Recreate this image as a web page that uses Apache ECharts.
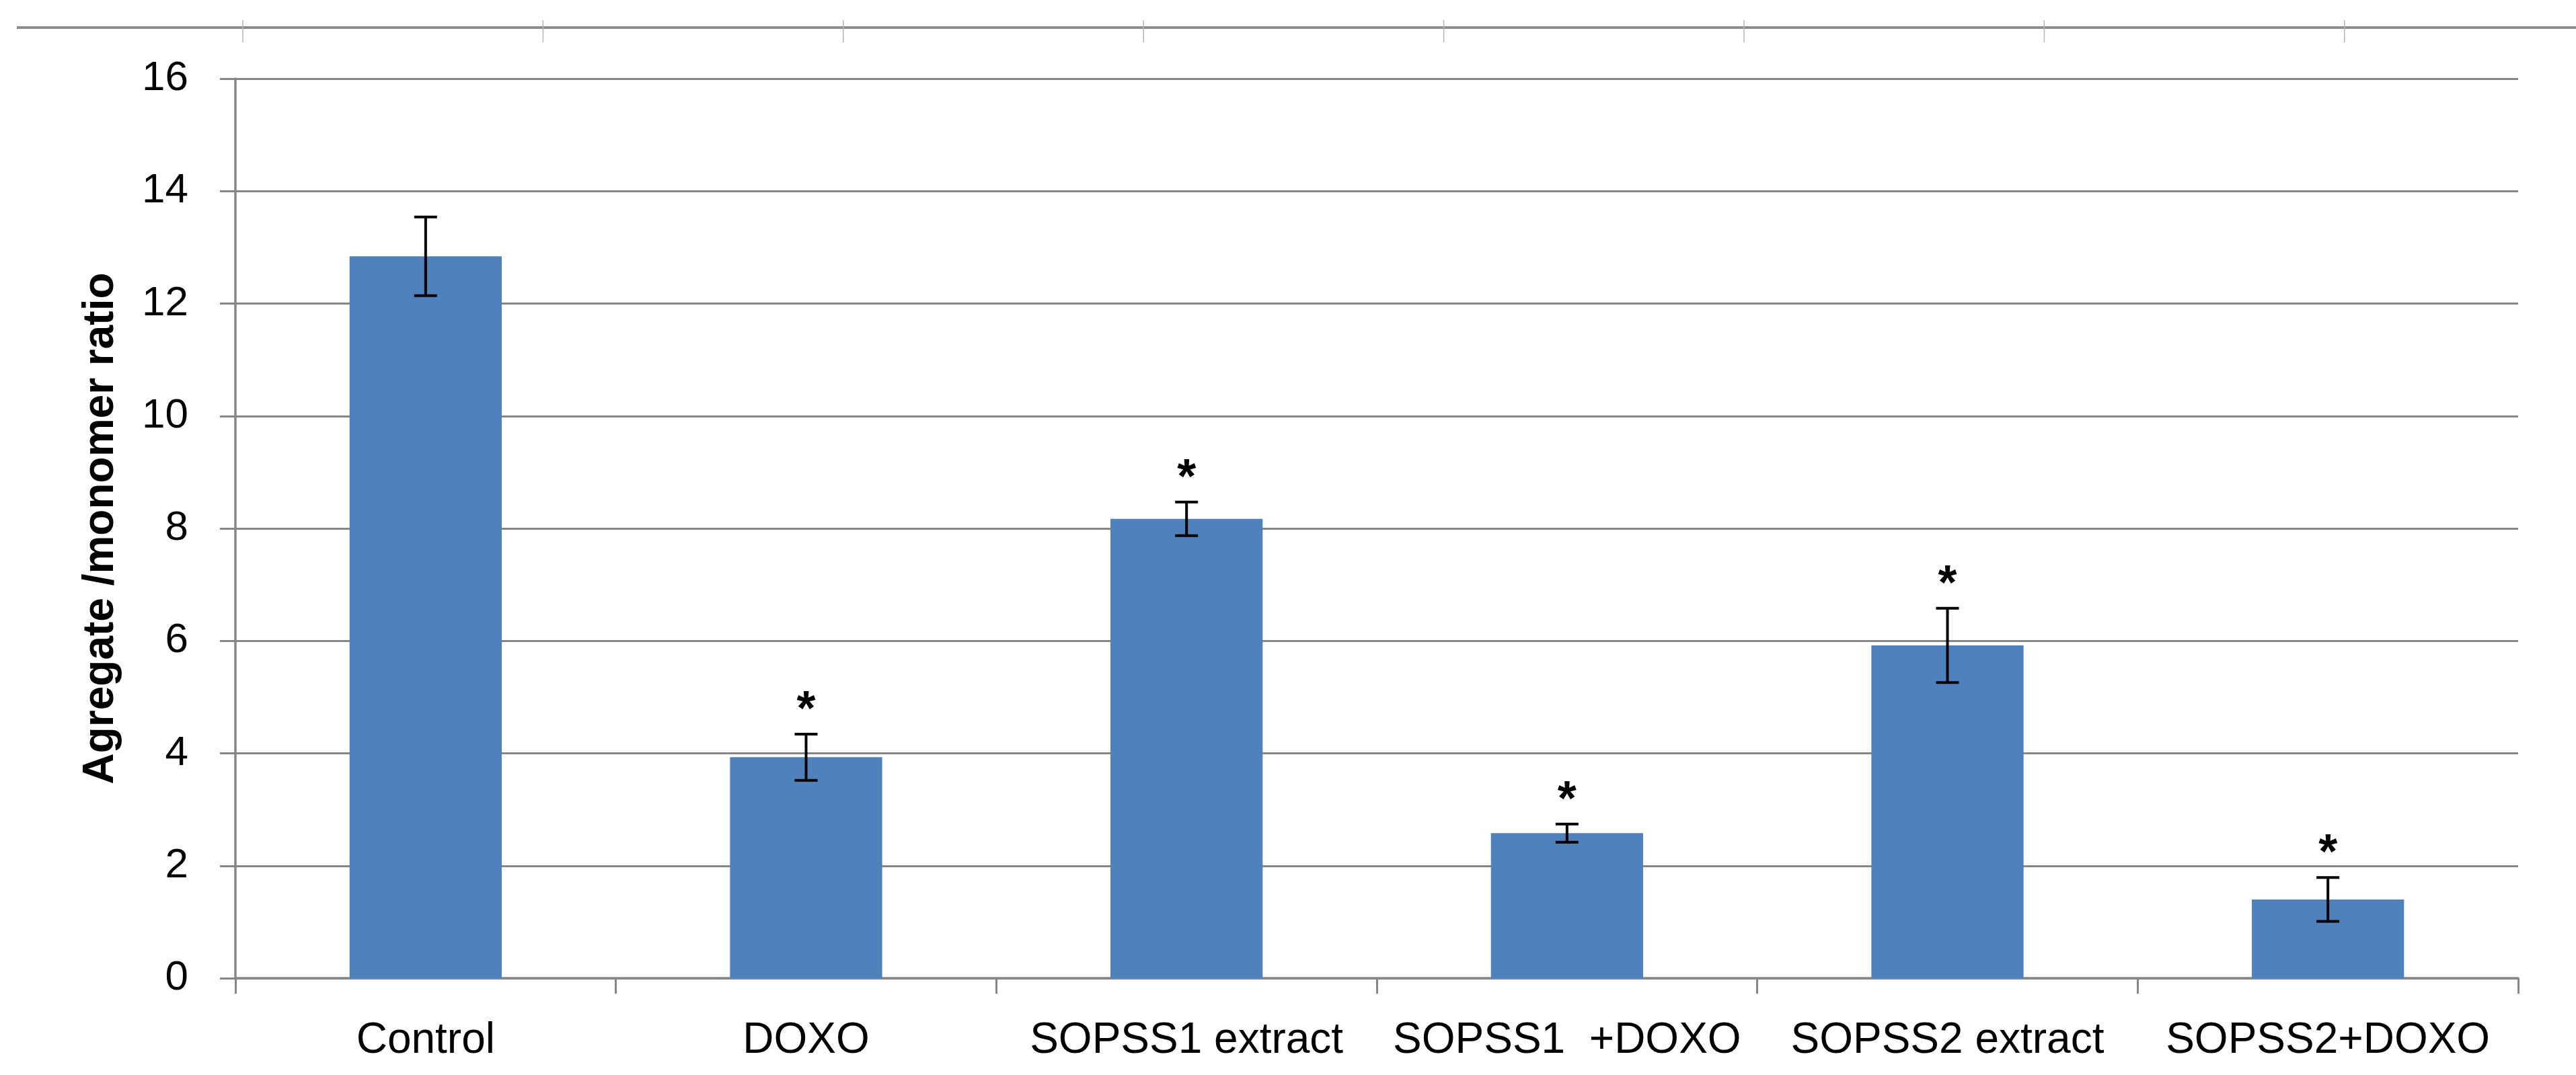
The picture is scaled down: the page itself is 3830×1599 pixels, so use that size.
<!DOCTYPE html>
<html>
<head>
<meta charset="utf-8">
<script src="https://cdn.jsdelivr.net/npm/echarts@6/dist/echarts.min.js"></script>
<style>
  html, body { margin: 0; padding: 0; background: #ffffff; }
  #chart { width: 3830px; height: 1599px; }
</style>
</head>
<body>
<div id="chart"></div>
<script>
// ---- data ----
const categories = ['Control', 'DOXO', 'SOPSS1 extract', 'SOPSS1  +DOXO', 'SOPSS2 extract', 'SOPSS2+DOXO'];
const ratioValues = [12.84, 3.93, 8.17, 2.58, 5.92, 1.40];
const errorValues = [0.70, 0.41, 0.30, 0.16, 0.66, 0.39];
const sigMarks = ['', '*', '*', '*', '*', '*'];
const yTicks = { min: 0, max: 16, interval: 2 };
const yAxisTitle = 'Agregate /monomer ratio';

const FONT = 'Liberation Sans, Arial, sans-serif';
const GRAY = '#868686';

const errData = categories.map((c, i) => [i, ratioValues[i], errorValues[i]]);

// decorative strip at the top of the picture (residue of a cropped figure)
const W = 3830;
const topStrip = [{
  type: 'line', silent: true,
  shape: { x1: 25, y1: 41, x2: W, y2: 41 },
  style: { stroke: '#8c8c8c', lineWidth: 4 }
}];
for (let k = 0; k < 8; k++) {
  const x = 361 + k * 446.4;
  topStrip.push({
    type: 'line', silent: true,
    shape: { x1: x, y1: 30, x2: x, y2: 63 },
    style: { stroke: '#b5b5b5', lineWidth: 1.5 }
  });
}

const chart = echarts.init(document.getElementById('chart'), null, { renderer: 'canvas' });
chart.setOption({
  backgroundColor: '#ffffff',
  animation: false,
  graphic: topStrip,
  grid: { left: 350, right: 86, top: 117, bottom: 144, containLabel: false },
  xAxis: {
    type: 'category',
    data: categories,
    boundaryGap: true,
    axisLine: { show: true, lineStyle: { color: GRAY, width: 3.5 } },
    axisTick: { show: true, interval: 0, length: 23, lineStyle: { color: GRAY, width: 3 } },
    axisLabel: { interval: 0, margin: 61, color: '#000', fontSize: 64, fontFamily: FONT },
    splitLine: { show: false }
  },
  yAxis: {
    type: 'value',
    min: yTicks.min, max: yTicks.max, interval: yTicks.interval,
    name: yAxisTitle,
    nameLocation: 'middle',
    nameGap: 168,
    nameRotate: 90,
    nameTextStyle: { fontSize: 64, fontWeight: 'bold', fontFamily: FONT, color: '#000' },
    axisLine: { show: true, lineStyle: { color: GRAY, width: 3.5 } },
    axisTick: { show: true, length: 23, lineStyle: { color: GRAY, width: 3 } },
    axisLabel: { margin: 70, color: '#000', fontSize: 62, fontFamily: FONT },
    splitLine: { show: true, lineStyle: { color: GRAY, width: 3 } }
  },
  series: [
    {
      type: 'bar',
      data: ratioValues,
      barCategoryGap: '60%',
      itemStyle: { color: '#4F81BD' },
      z: 2
    },
    {
      type: 'custom',
      data: errData,
      encode: { x: 0, y: 1 },
      z: 5,
      renderItem: function (params, api) {
        const i = api.value(0);
        const v = api.value(1);
        const e = api.value(2);
        const mark = sigMarks[params.dataIndex];
        const top = api.coord([i, v + e]);
        const bot = api.coord([i, v - e]);
        const hw = 17;
        const st = { stroke: '#000', lineWidth: 4 };
        const children = [
          { type: 'line', shape: { x1: top[0], y1: top[1], x2: bot[0], y2: bot[1] }, style: st },
          { type: 'line', shape: { x1: top[0] - hw, y1: top[1], x2: top[0] + hw, y2: top[1] }, style: st },
          { type: 'line', shape: { x1: bot[0] - hw, y1: bot[1], x2: bot[0] + hw, y2: bot[1] }, style: st }
        ];
        if (mark) {
          children.push({
            type: 'text',
            style: {
              text: mark, x: top[0], y: top[1] - 34,
              align: 'center', verticalAlign: 'middle',
              font: 'bold 72px Liberation Sans, Arial, sans-serif', fill: '#000'
            }
          });
        }
        return { type: 'group', children: children };
      }
    }
  ]
});
</script>
</body>
</html>
